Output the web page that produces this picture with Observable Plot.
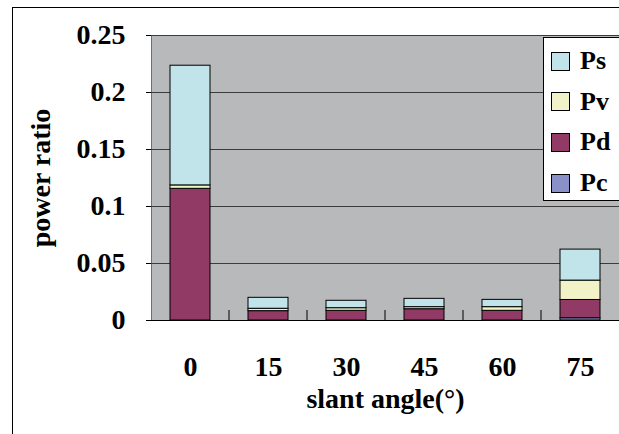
<!DOCTYPE html>
<html><head><meta charset="utf-8">
<script src="https://cdn.jsdelivr.net/npm/d3@7"></script>
<script src="https://cdn.jsdelivr.net/npm/@observablehq/plot@0.6"></script>
<style>
body{margin:0;background:#fff;}
#wrap{position:relative;width:619px;height:434px;overflow:hidden;font-family:"Liberation Serif","Times New Roman",serif;}
#border{position:absolute;left:12px;top:7px;width:700px;height:600px;border:1px solid #000;box-sizing:border-box;}
#chart{position:absolute;left:0;top:0;}
#legend{position:absolute;left:543px;top:37px;width:90px;height:164px;background:#fff;border:1px solid #000;box-sizing:border-box;}
.item{position:absolute;left:7px;height:30px;display:flex;align-items:center;font-weight:bold;font-size:26px;color:#000;}
.sw{width:19px;height:19px;border:1px solid #000;box-sizing:border-box;margin-right:10px;}
</style></head>
<body><div id="wrap"><div id="border"></div><div id="chart"></div><div id="legend"></div></div>
<script>
const angles = ["0","15","30","45","60","75"];
const series = ["Pc","Pd","Pv","Ps"];
const legendOrder = ["Ps","Pv","Pd","Pc"];
const colors = ["#8a91c8","#913a66","#f2f2c8","#c0e4ea"];
const Pc = [0, 0, 0, 0, 0, 0.002];
const Pd = [0.1155, 0.0082, 0.0085, 0.0099, 0.0085, 0.016];
const Pv = [0.003, 0.0021, 0.0023, 0.0018, 0.0032, 0.017];
const Ps = [0.105, 0.0096, 0.0065, 0.0073, 0.0064, 0.0272];
const yTicks = [0, 0.05, 0.1, 0.15, 0.2, 0.25];
const yTickLabels = ["0","0.05","0.1","0.15","0.2","0.25"];

const valuesBySeries = {Pc, Pd, Pv, Ps};
const rows = [];
series.forEach(s => angles.forEach((a, i) => {
  if (valuesBySeries[s][i] > 0) rows.push({angle: a, series: s, value: valuesBySeries[s][i]});
}));

const boundaryTicks = (index, scales, values, dims) => {
  const x = scales.x, y = scales.y;
  const bw = x.bandwidth ? x.bandwidth() : 0;
  const g = d3.create("svg:g");
  for (let i = 1; i < angles.length; i++) {
    const xb = (x(angles[i-1]) + bw + x(angles[i])) / 2;
    g.append("line").attr("x1", xb).attr("x2", xb).attr("y1", y(0)).attr("y2", y(0) - 10).attr("stroke", "#000");
  }
  return g.node();
};

const plot = Plot.plot({
  width: 619, height: 434,
  marginLeft: 151, marginRight: 0, marginTop: 35, marginBottom: 114,
  style: {background: "transparent", fontFamily: "'Liberation Serif', serif", fontWeight: "bold", fontSize: "28px", color: "#000", overflow: "visible"},
  x: {domain: angles, paddingInner: 0.49, paddingOuter: 0.245},
  y: {domain: [0, 0.25]},
  color: {domain: series, range: colors},
  marks: [
    Plot.frame({fill: "#b8b9bb", stroke: "#6e6e6e"}),
    Plot.gridY(yTicks.filter(d => d > 0), {stroke: "#3c3c3c", strokeOpacity: 1}),
    Plot.barY(rows, Plot.stackY({order: series}, {x: "angle", y: "value", fill: "series", stroke: "#000", strokeWidth: 1})),
    Plot.ruleY([0], {stroke: "#000"}),
    Plot.axisY({ticks: yTicks, tickSize: 5, tickPadding: 21, fontSize: 28, tickFormat: (d) => yTickLabels[yTicks.indexOf(d)],
      label: "power ratio", labelAnchor: "center", labelOffset: 121, labelArrow: "none"}),
    Plot.axisX({tickSize: 0, tickPadding: 36, fontSize: 28, label: "slant angle(°)", labelAnchor: "center", labelOffset: 87, labelArrow: "none"}),
    boundaryTicks
  ]
});
document.getElementById("chart").appendChild(plot);

const legend = document.getElementById("legend");
legendOrder.forEach((s, i) => {
  const it = document.createElement("div");
  it.className = "item";
  it.style.top = (8 + i * 40.7) + "px";
  const sw = document.createElement("div");
  sw.className = "sw";
  sw.style.background = colors[series.indexOf(s)];
  it.appendChild(sw);
  it.appendChild(document.createTextNode(s));
  legend.appendChild(it);
});
</script></body></html>
